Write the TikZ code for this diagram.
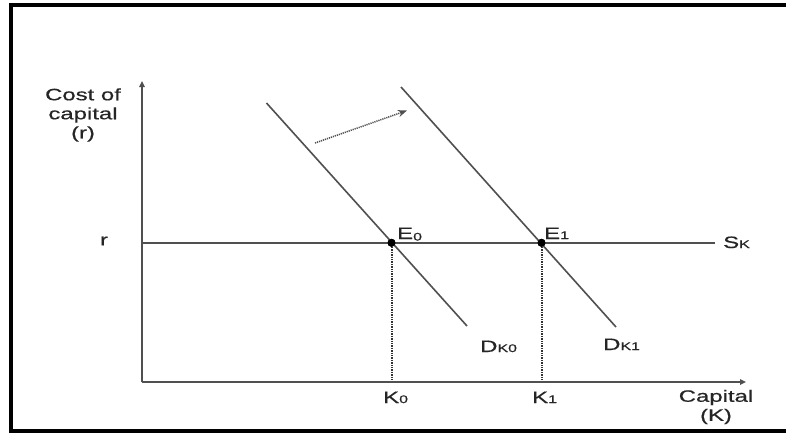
\documentclass[tikz,border=0pt]{standalone}
\usepackage{fontspec}
\setmainfont[FakeStretch=1.45,FakeBold=0.5]{Liberation Sans}
\usetikzlibrary{arrows.meta}
\definecolor{linegray}{HTML}{505050}
\definecolor{txtgray}{HTML}{252525}
\newcommand{\smallpart}[1]{{\fontsize{11}{11}\selectfont #1}}
\begin{document}
\begin{tikzpicture}[x=1pt,y=-1pt,
  axis/.style={draw=linegray, line width=1.7pt, -{Triangle[length=6pt,width=5.5pt]}},
  demand/.style={draw=linegray, line width=1.6pt},
  guide/.style={draw=black!80, line width=2pt, dash pattern=on 1.3pt off 1.1pt},
  shiftarrow/.style={draw=linegray, line width=1.5pt, dash pattern=on 1.2pt off 0.9pt, -{Stealth[length=9pt,width=7pt]}},
  lbl/.style={text=txtgray, font=\fontsize{16.5}{19}\selectfont, inner sep=0pt},
  eqpt/.style={circle, fill=black, inner sep=0pt, minimum size=8pt}]
\useasboundingbox (0,0) rectangle (786,432);
\fill[white] (0,0) rectangle (786,432);
% frame
\draw[line width=4.5pt] (790,5) -- (11,5) -- (11,430.8) -- (790,430.8);
% points
\coordinate (O) at (142,382);
\coordinate (Ytop) at (142,81);
\coordinate (Xend) at (746,382);
\coordinate (Rl) at (142,243);
\coordinate (Rr) at (715,243);
\coordinate (D0a) at (266.5,103);
\coordinate (D0b) at (467,326);
\coordinate (D1a) at (401,87);
\coordinate (D1b) at (616,327);
\coordinate (Sa) at (315,143);
\coordinate (Sb) at (407,110.5);
\node[eqpt] (E0) at (391.5,242.8) {};
\node[eqpt] (E1) at (541.5,242.8) {};
% supply line
\draw[demand] (Rl) -- (Rr);
% demand curves
\draw[demand] (D0a) -- (D0b);
\draw[demand] (D1a) -- (D1b);
% guides
\draw[guide] (E0) -- (E0 |- O);
\draw[guide] (E1) -- (E1 |- O);
% axes
\draw[axis] (O) -- (Ytop);
\draw[axis] (O) -- (Xend);
\node[eqpt] at (E0) {};
\node[eqpt] at (E1) {};
% shift arrow
\draw[shiftarrow] (Sa) -- (Sb);
% labels
\node[lbl, align=center] (ylab) at (83,115) {Cost of\\capital\\(r)};
\node[lbl] (rlab) at (104,241) {r};
\node[lbl, anchor=base west] (e0lab) at (397,239) {E\raisebox{-1.5pt}{\smallpart{0}}};
\node[lbl, anchor=base west] (e1lab) at (544,239) {E\smallpart{1}};
\node[lbl, anchor=base west] (sklab) at (723,248) {S\smallpart{K}};
\node[lbl, anchor=base west] (d0lab) at (480,352) {D\smallpart{K0}};
\node[lbl, anchor=base west] (d1lab) at (603,350) {D\smallpart{K1}};
\node[lbl, anchor=base west] (k0lab) at (383,403) {K\smallpart{0}};
\node[lbl, anchor=base west] (k1lab) at (532,403) {K\smallpart{1}};
\node[lbl, align=center] (xlab) at (716,407) {Capital\\(K)};
\end{tikzpicture}
\end{document}
